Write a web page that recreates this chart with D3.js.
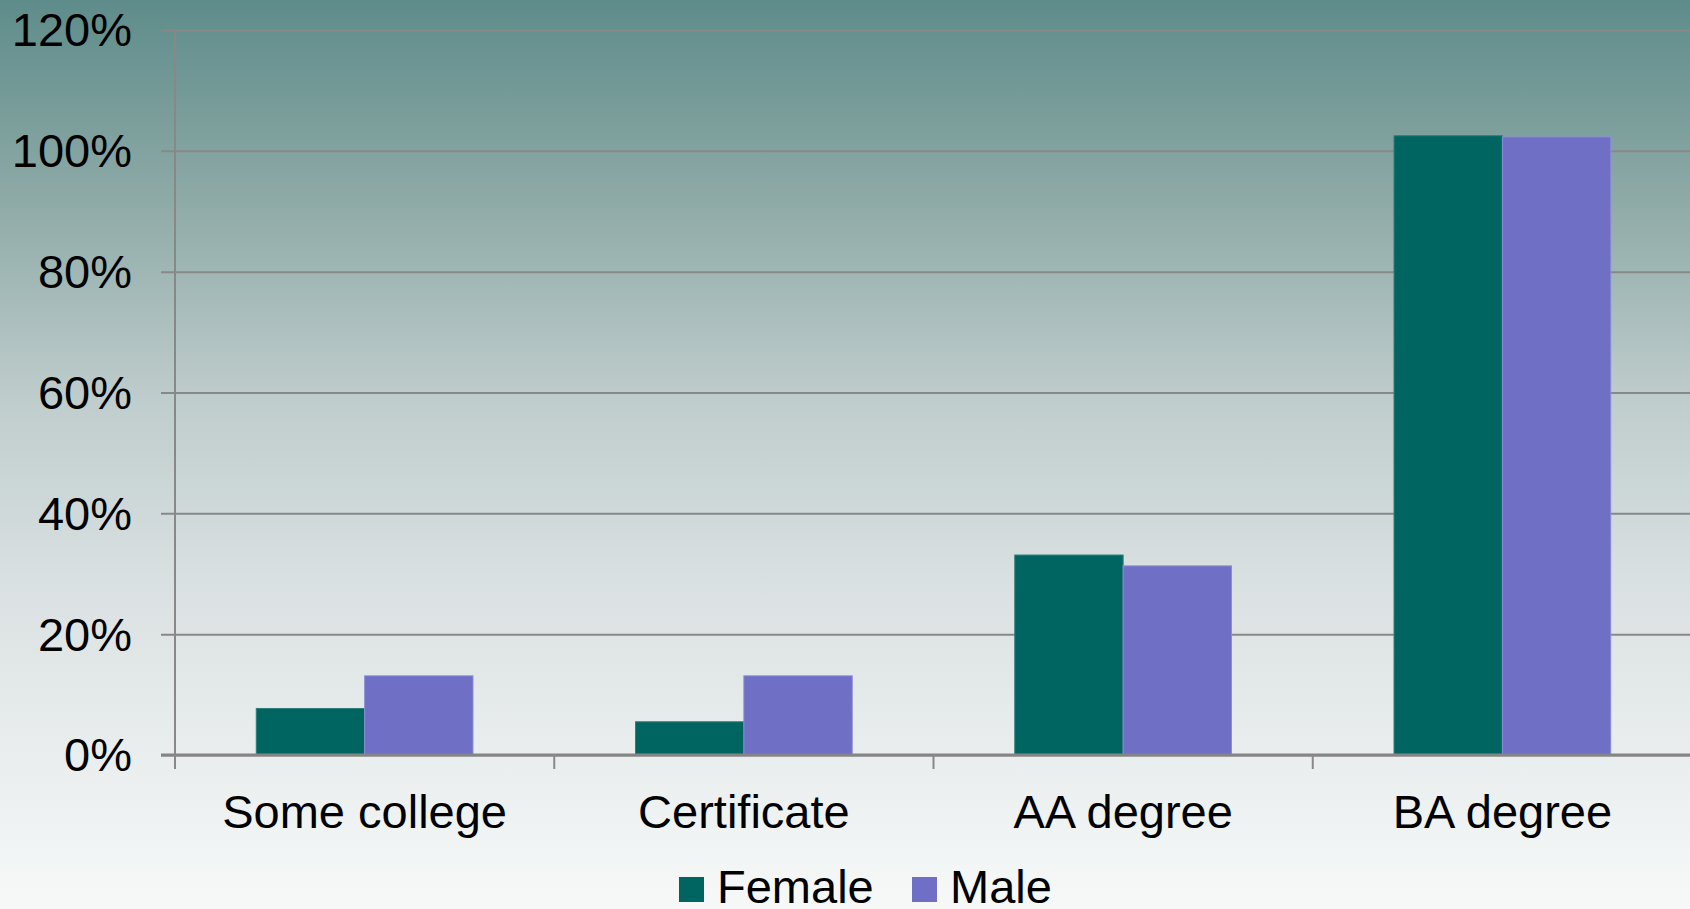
<!DOCTYPE html>
<html>
<head>
<meta charset="utf-8">
<script src="https://cdn.jsdelivr.net/npm/d3@7"></script>
<style>
  html, body { margin: 0; padding: 0; overflow: hidden; }
  svg { display: block; font-family: "Liberation Sans", Arial, sans-serif; }
</style>
</head>
<body>
<script>
'use strict';

// data
const categories = ['Some college', 'Certificate', 'AA degree', 'BA degree'];
const seriesNames = ['Female', 'Male'];
const femaleValues = [7.7, 5.5, 33.1, 102.5];
const maleValues = [13.1, 13.1, 31.3, 102.3];
const yTicks = [0, 20, 40, 60, 80, 100, 120];
const seriesColors = ['#006461', '#6f6fc5'];

(function() {
    const W = 1690, H = 909;
    const left = 175, right = 1692, top = 30, bottom = 755;

    const svg = d3.select('body').append('svg')
        .attr('width', W)
        .attr('height', H);

    // background gradient
    const grad = svg.append('defs').append('linearGradient')
        .attr('id', 'bg')
        .attr('x1', 0).attr('y1', 0).attr('x2', 0).attr('y2', 1);
    [[0, '#5e8c8a'], [0.22, '#8eaaa7'], [0.44, '#bfcdcc'], [0.66, '#dce2e3'], [1, '#f6f9f8']]
        .forEach(s => grad.append('stop').attr('offset', s[0]).attr('stop-color', s[1]));
    svg.append('rect').attr('width', W).attr('height', H).attr('fill', 'url(#bg)');

    const x = d3.scaleBand().domain(categories).range([left, right]).paddingInner(0).paddingOuter(0);
    const inner = d3.scaleBand().domain(seriesNames)
        .range([0, x.bandwidth()]).paddingInner(0).paddingOuter(0.75);
    const y = d3.scaleLinear().domain([0, 120]).range([bottom, top]);
    const color = d3.scaleOrdinal().domain(seriesNames).range(seriesColors);

    // gridlines + y labels
    const yAxis = d3.axisLeft(y)
        .tickValues(yTicks)
        .tickSize(-(W - left))
        .tickPadding(0)
        .tickFormat(d => d + '%');
    const gy = svg.append('g')
        .attr('transform', 'translate(' + left + ',0)')
        .call(yAxis);
    gy.select('.domain').remove();
    gy.selectAll('.tick line')
        .attr('x1', -14)
        .attr('stroke', '#888888')
        .attr('stroke-width', 2);
    gy.selectAll('.tick text')
        .attr('x', -43)
        .attr('dy', '0.34em')
        .style('font-size', '47px')
        .attr('fill', '#000');

    // y axis line
    svg.append('line')
        .attr('x1', left).attr('x2', left)
        .attr('y1', top).attr('y2', bottom)
        .attr('stroke', '#888888').attr('stroke-width', 2);

    // bars
    const rows = categories.map((c, i) => ({ cat: c, vals: [femaleValues[i], maleValues[i]] }));
    const groups = svg.selectAll('.grp')
        .data(rows)
        .enter()
        .append('g')
        .attr('class', 'grp')
        .attr('transform', d => 'translate(' + x(d.cat) + ',0)');
    groups.selectAll('rect')
        .data(d => d.vals.map((v, j) => ({ name: seriesNames[j], v: v })))
        .enter()
        .append('rect')
        .attr('x', d => inner(d.name))
        .attr('y', d => y(d.v))
        .attr('width', inner.bandwidth())
        .attr('height', d => bottom - y(d.v))
        .attr('fill', d => color(d.name))
        .attr('stroke', d => d.name === 'Female' ? '#2f7f7b' : '#8c8cd6')
        .attr('stroke-width', 1);

    // x axis
    const xAxis = d3.axisBottom(x).tickSize(0).tickPadding(0);
    const gx = svg.append('g')
        .attr('transform', 'translate(0,' + bottom + ')')
        .call(xAxis);
    gx.select('.domain').remove();
    gx.selectAll('.tick text')
        .attr('y', 73)
        .attr('dy', 0)
        .style('font-size', '47px')
        .attr('fill', '#000');
    svg.append('line')
        .attr('x1', left - 14).attr('x2', W)
        .attr('y1', bottom).attr('y2', bottom)
        .attr('stroke', '#858585').attr('stroke-width', 3);
    // category separator ticks
    svg.selectAll('.ctick')
        .data(categories)
        .enter()
        .append('line')
        .attr('class', 'ctick')
        .attr('x1', d => x(d)).attr('x2', d => x(d))
        .attr('y1', bottom).attr('y2', bottom + 14)
        .attr('stroke', '#888888').attr('stroke-width', 2);

    // legend
    const legendX = [679, 912];
    const legend = svg.selectAll('.legend')
        .data(seriesNames)
        .enter()
        .append('g')
        .attr('class', 'legend')
        .attr('transform', (d, i) => 'translate(' + legendX[i] + ',0)');
    legend.append('rect')
        .attr('x', 0).attr('y', 877)
        .attr('width', 25).attr('height', 25)
        .attr('fill', color);
    legend.append('text')
        .attr('x', 38).attr('y', 903)
        .style('font-size', '47px')
        .attr('fill', '#000')
        .text(d => d);
})();
</script>
</body>
</html>
